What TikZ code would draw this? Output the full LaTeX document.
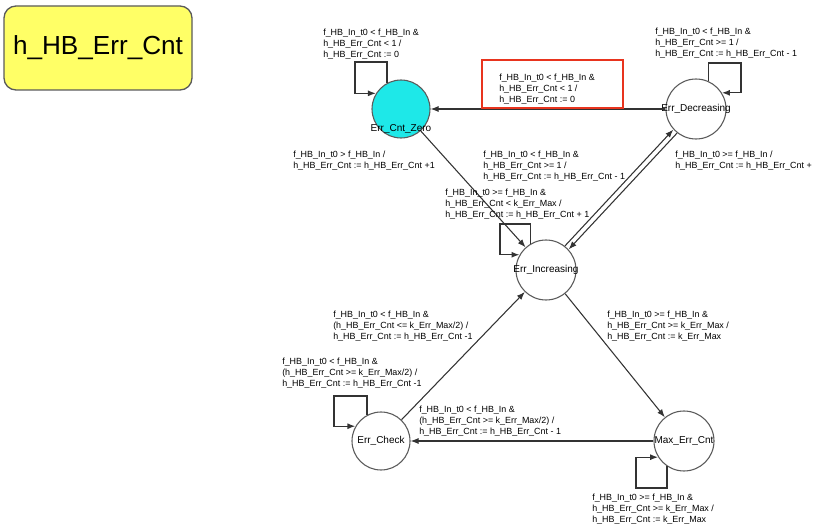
\documentclass[tikz,border=0pt]{standalone}
\usepackage{fontspec}
\setmainfont{Liberation Sans}
\usetikzlibrary{arrows.meta,calc}
\definecolor{hbyellow}{RGB}{255,255,102}
\definecolor{hbcyan}{RGB}{30,232,232}
\definecolor{hbred}{RGB}{232,52,30}
\definecolor{hbgrey}{HTML}{5A5A5A}
\definecolor{hbline}{HTML}{333333}
\newcommand{\hbcnt}{h\_HB\_Err\_Cnt}
\newcommand{\hbin}{f\_HB\_In}
\newcommand{\hbint}{f\_HB\_In\_t0}
\newcommand{\kmax}{k\_Err\_Max}
\newcommand{\sname}[1]{\makebox[0pt]{#1}}
\tikzset{
  state/.style    = {circle, draw=hbgrey, thick, fill=white, minimum size=45pt,
                     inner sep=0pt, font=\fontsize{7.5}{9}\selectfont},
  sig/.style      = {-{Latex[length=6pt,width=4.5pt]}, draw=hbline, line width=0.8pt},
  selfloop/.style = {sig, line width=1pt},
  lbl/.style      = {anchor=north west, inner sep=0pt, align=left,
                     font=\fontsize{6.7}{8}\selectfont},
  titlebox/.style = {draw=hbgrey, line width=1pt, fill=hbyellow, rounded corners=9pt,
                     minimum width=141pt, minimum height=63pt,
                     font=\fontsize{19.6}{23}\selectfont},
  hilite/.style   = {draw=hbred, line width=2.2pt},
}
\begin{document}
\begin{tikzpicture}[x=0.75pt, y=-0.75pt]
  \useasboundingbox (0,0) rectangle (814,527);
  \node[titlebox] (title) at (98,48) {\hbcnt};

  \node[state, fill=hbcyan, minimum size=43.5pt,
        label={[font=\fontsize{7.5}{9}\selectfont, label distance=-14pt]below:\sname{Err\_Cnt\_Zero}}]
        (zero) at (401,109) {};
  \node[state] (dec)   at (696,109) {\sname{Err\_Decreasing}};
  \node[state] (inc)   at (546,270) {\sname{Err\_Increasing}};
  \node[state, minimum size=43.5pt] (check) at (381,441) {\sname{Err\_Check}};
  \node[state] (max)   at (684,441) {\sname{Max\_Err\_Cnt}};

  \draw[sig] (dec) -- (zero);
  \draw[sig] (zero) -- (inc);
  \draw[sig, transform canvas={shift={(-1.9,-1.7)}}] (inc) -- (dec);
  \draw[sig, transform canvas={shift={(1.9,1.7)}}] (dec) -- (inc);
  \draw[sig] (inc) -- (max);
  \draw[sig] (max) -- (check);
  \draw[sig] (check) -- (inc);

  \draw[selfloop] (zero.118) |- (355,62) |- (zero.148);
  \draw[selfloop] (dec.66) |- (741,63) |- (dec.32);
  \draw[selfloop] (inc.120) |- (500,224) |- (inc.150);
  \draw[selfloop] (check.118) |- (334,396) |- (check.150);
  \draw[selfloop] (max.-124) |- (636,488) |- (max.-148);

  \draw[hilite] (482,60) rectangle (623,108);

  \node[lbl] (lzero) at (323,29) {\hbint{} < \hbin{} \&\\\hbcnt{} < 1 /\\\hbcnt{} := 0};
  \node[lbl] (ldeczero) at (499,74) {\hbint{} < \hbin{} \&\\\hbcnt{} < 1 /\\\hbcnt{} := 0};
  \node[lbl] (lzeroinc) at (293,151) {\hbint{} > \hbin{} /\\\hbcnt{} := \hbcnt{} +1};
  \node[lbl] (ldecinc) at (483,151) {\hbint{} < \hbin{} \&\\\hbcnt{} >= 1 /\\\hbcnt{} := \hbcnt{} - 1};
  \node[lbl] (lincdec) at (675,151) {\hbint{} >= \hbin{} /\\\hbcnt{} := \hbcnt{} +};
  \node[lbl] (ldec) at (655,28) {\hbint{} < \hbin{} \&\\\hbcnt{} >= 1 /\\\hbcnt{} := \hbcnt{} - 1};
  \node[lbl] (linc) at (445,189) {\hbint{} >= \hbin{} \&\\\hbcnt{} < \kmax{} /\\\hbcnt{} := \hbcnt{} + 1};
  \node[lbl] (lcheckinc) at (333,311) {\hbint{} < \hbin{} \&\\(\hbcnt{} <= \kmax/2) /\\\hbcnt{} := \hbcnt{} -1};
  \node[lbl] (lcheck) at (282,358) {\hbint{} < \hbin{} \&\\(\hbcnt{} >= \kmax/2) /\\\hbcnt{} := \hbcnt{} -1};
  \node[lbl] (lincmax) at (607,311) {\hbint{} >= \hbin{} \&\\\hbcnt{} >= \kmax{} /\\\hbcnt{} := \kmax};
  \node[lbl] (lmaxcheck) at (419,406) {\hbint{} < \hbin{} \&\\(\hbcnt{} >= \kmax/2) /\\\hbcnt{} := \hbcnt{} - 1};
  \node[lbl] (lmax) at (592,494) {\hbint{} >= \hbin{} \&\\\hbcnt{} >= \kmax{} /\\\hbcnt{} := \kmax};
\end{tikzpicture}
\end{document}
